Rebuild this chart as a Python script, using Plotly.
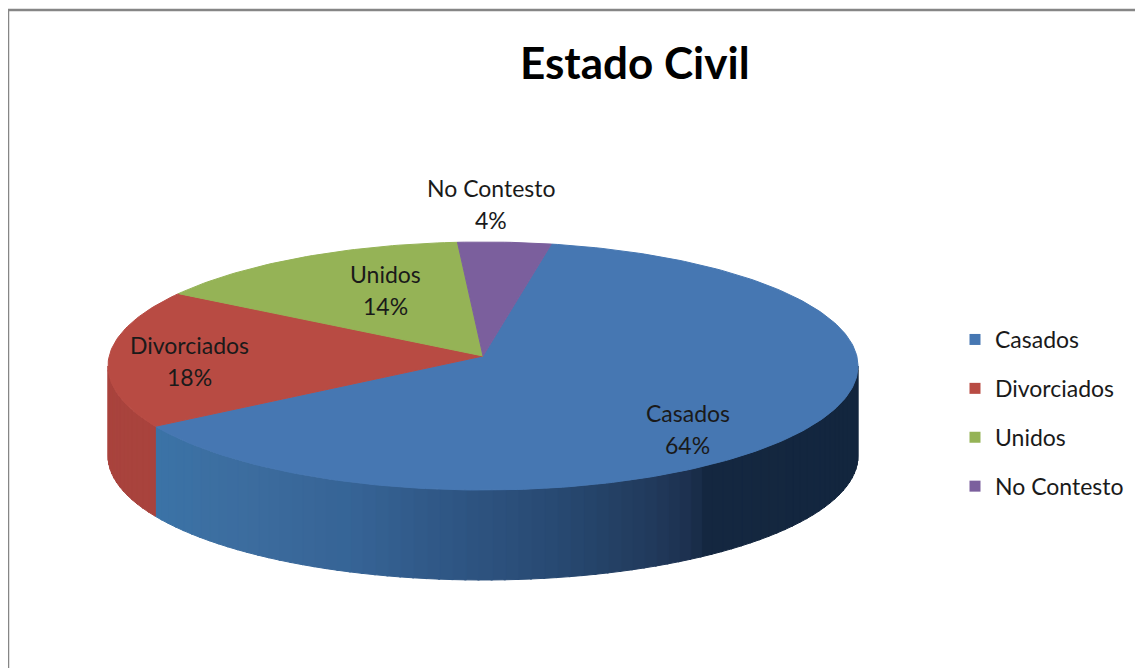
import math
import plotly.graph_objects as go

# ---------------- data ----------------
categories = ["Casados", "Divorciados", "Unidos", "No Contesto"]
values = [64, 18, 14, 4]

# ---------------- styling / layout constants ----------------
top_colors = ["#4677b2", "#b84b43", "#95b356", "#7b5f9d"]
side_colors = [None, (169, 67, 61), (120, 145, 68), (98, 76, 126)]
casados_side_stops = [  # (x pixel, rgb)
    (140, (59, 116, 168)), (250, (60, 108, 158)), (350, (54, 100, 150)),
    (450, (47, 86, 132)), (550, (40, 74, 115)), (650, (33, 58, 92)),
    (690, (28, 48, 78)), (705, (20, 39, 64)), (870, (19, 38, 62)),
]
W, H = 1143, 668
PAGE_OFF = 8  # browser body margin
CX, CY, RX, RY = 483, 366, 375, 124
APEX_DY = -10
DEPTH = 90
START_DEG = 10.5
label_r = [0.66, 0.785, 0.51, 1.30]
label_dy = [15, 1, -21, -1]
label_dx = [4, 0, -4, -20]
FONT = "Lato, Calibri, sans-serif"
LBL_SIZE = 23


def pt(theta_deg, r=1.0, dy=0.0):
    t = math.radians(theta_deg)
    return CX + r * RX * math.sin(t), CY - r * RY * math.cos(t) + dy


def interp_color(x):
    s = casados_side_stops
    if x <= s[0][0]:
        c = s[0][1]
    elif x >= s[-1][0]:
        c = s[-1][1]
    else:
        for (x0, c0), (x1, c1) in zip(s[:-1], s[1:]):
            if x0 <= x <= x1:
                f = (x - x0) / (x1 - x0)
                c = tuple(c0[k] + f * (c1[k] - c0[k]) for k in range(3))
                break
    return "rgb(%d,%d,%d)" % tuple(int(round(v)) for v in c)


total = float(sum(values))
spans = [v / total * 360.0 for v in values]
starts = []
a = START_DEG
for sp in spans:
    starts.append(a)
    a += sp

fig = go.Figure()

# ---- side walls (front half only, 90..270 deg) ----
for i, (st, sp) in enumerate(zip(starts, spans)):
    a0, a1 = st, st + sp
    lo, hi = max(a0, 90.0), min(a1, 270.0)
    if hi <= lo:
        continue
    nstrips = max(1, int((hi - lo) / 2.0))
    step = (hi - lo) / nstrips
    for k in range(nstrips):
        s0 = lo + k * step
        s1 = s0 + step + (0.3 if k < nstrips - 1 else 0)
        n = 6
        angs = [s0 + (s1 - s0) * j / n for j in range(n + 1)]
        top = [pt(t) for t in angs]
        bot = [pt(t, dy=DEPTH) for t in reversed(angs)]
        xs = [p[0] for p in top + bot] + [top[0][0]]
        ys = [p[1] for p in top + bot] + [top[0][1]]
        xm = pt((s0 + s1) / 2)[0]
        if i == 0:
            col = interp_color(xm)
        else:
            col = "rgb(%d,%d,%d)" % side_colors[i]
        fig.add_trace(go.Scatter(
            x=xs, y=ys, mode="lines", fill="toself", fillcolor=col,
            line=dict(color=col, width=1), hoverinfo="skip", showlegend=False))

# ---- top faces ----
apex = (CX, CY + APEX_DY)
for i, (st, sp) in enumerate(zip(starts, spans)):
    n = max(8, int(sp))
    angs = [st + sp * j / n for j in range(n + 1)]
    arc = [pt(t) for t in angs]
    xs = [apex[0]] + [p[0] for p in arc] + [apex[0]]
    ys = [apex[1]] + [p[1] for p in arc] + [apex[1]]
    fig.add_trace(go.Scatter(
        x=xs, y=ys, mode="lines", fill="toself", fillcolor=top_colors[i],
        line=dict(color=top_colors[i], width=1), name=categories[i],
        hoverinfo="name", showlegend=False))

# ---- legend entries ----
for i, c in enumerate(categories):
    fig.add_trace(go.Scatter(
        x=[None], y=[None], mode="markers", name=c, legendgroup=c,
        marker=dict(symbol="square", size=11, color=top_colors[i]),
        showlegend=True))

# ---- data labels ----
annotations = []
for i, (st, sp) in enumerate(zip(starts, spans)):
    mid = st + sp / 2
    lx, ly = pt(mid, r=label_r[i], dy=label_dy[i])
    lx += label_dx[i]
    pct = "%d%%" % round(values[i] / total * 100)
    for txt, off in ((categories[i], -16), (pct, 16)):
        annotations.append(dict(
            x=lx, y=ly + off, xref="x", yref="y", text=txt, showarrow=False,
            font=dict(family=FONT, size=LBL_SIZE, color="#1a1a1a"),
            xanchor="center", yanchor="middle"))

annotations.append(dict(
    x=635, y=62, xref="x", yref="y", text="<b>Estado Civil</b>", showarrow=False,
    font=dict(family=FONT, size=44, color="#000000"),
    xanchor="center", yanchor="middle"))

PW, PH = W - PAGE_OFF, H - PAGE_OFF
border = dict(color="#868686", width=2.5)
fig.update_layout(
    width=PW, height=PH,
    margin=dict(l=0, r=0, t=0, b=0),
    paper_bgcolor="white", plot_bgcolor="white",
    xaxis=dict(range=[PAGE_OFF, W], visible=False, fixedrange=True),
    yaxis=dict(range=[H, PAGE_OFF], visible=False, fixedrange=True),
    annotations=annotations,
    shapes=[
        dict(type="line", xref="x", yref="y", x0=8, y0=10, x1=W + 20, y1=10,
             line=border, layer="above"),
        dict(type="line", xref="x", yref="y", x0=8, y0=10, x1=8, y1=H + 20,
             line=border, layer="above"),
    ],
    legend=dict(x=(955 - PAGE_OFF) / PW, y=1 - (318 - PAGE_OFF) / PH,
                xanchor="left", yanchor="top",
                font=dict(family=FONT, size=LBL_SIZE, color="#1a1a1a"),
                tracegroupgap=16, itemwidth=30, bgcolor="rgba(0,0,0,0)"),
    showlegend=True,
)

fig.write_html("out.html")
